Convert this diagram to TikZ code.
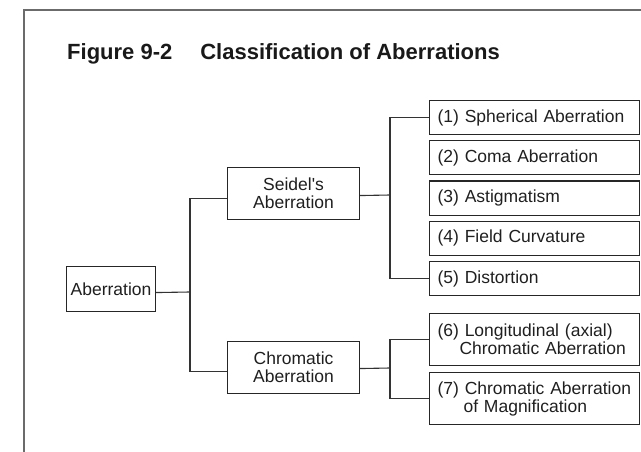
\documentclass[tikz,border=0pt]{standalone}
\usepackage{fontspec}
\setmainfont{Liberation Sans}
\begin{document}
\begin{tikzpicture}[x=1pt,y=-1pt,
  framestyle/.style={draw=black!58,line width=1.8pt},
  box/.style={draw=black!85,line width=1.1pt,rectangle,inner sep=0pt,anchor=north west,
     font=\fontsize{17.5}{18}\selectfont,text=black!88},
  lbox/.style={box,align=center},
  rbox/.style={box,text width=194pt,inner xsep=8pt,align=left,minimum height=34pt},
  tall/.style={minimum height=52pt},
  conn/.style={draw=black!80,line width=1.1pt}]
\useasboundingbox (0,0) rectangle (641,452);
\draw[framestyle] (24,452) -- (24,10) -- (641,10);
\node[anchor=base west,font=\fontsize{22}{24}\selectfont\bfseries,text=black!90,inner sep=0pt] (title) at (67,60)
  {Figure 9-2\hspace*{28pt}Classification of Aberrations};
% level 1
\node[lbox,minimum width=89pt,minimum height=45pt] (ab) at (66,266) {Aberration};
% level 2
\node[lbox,minimum width=132pt,tall] (seidel) at (227,167) {Seidel\textquotesingle s\\Aberration};
\node[lbox,minimum width=132pt,tall] (chrom) at (227,341) {Chromatic\\Aberration};
% level 3
\node[rbox] (b1) at (429,100) {(1) Spherical Aberration};
\node[rbox] (b2) at (429,140.25) {(2) Coma Aberration};
\node[rbox] (b3) at (429,180.5) {(3) Astigmatism};
\node[rbox] (b4) at (429,220.75) {(4) Field Curvature};
\node[rbox] (b5) at (429,261) {(5) Distortion};
\node[rbox,tall] (b6) at (429,313) {\mbox{(6) Longitudinal (axial)}\\\hspace*{22pt}\mbox{Chromatic Aberration}};
\node[rbox,tall] (b7) at (429,372) {\mbox{(7) Chromatic Aberration}\\\hspace*{26pt}\mbox{of Magnification}};
% connectors
\coordinate (t1) at (190,292);
\coordinate (t2) at (390,195);
\coordinate (t3) at (390,368);
\draw[conn] ([yshift=-3.5pt]ab.east) -- (t1);
\draw[conn] ([yshift=-5pt]seidel.west) -| (t1) |- ([yshift=-4pt]chrom.west);
\draw[conn] ([yshift=-2pt]seidel.east) -- (t2);
\draw[conn] (b1.west) -| (t2) |- (b5.west);
\draw[conn] ([yshift=-1pt]chrom.east) -- (t3);
\draw[conn] (b6.west) -| (t3) |- (b7.west);
\end{tikzpicture}
\end{document}
